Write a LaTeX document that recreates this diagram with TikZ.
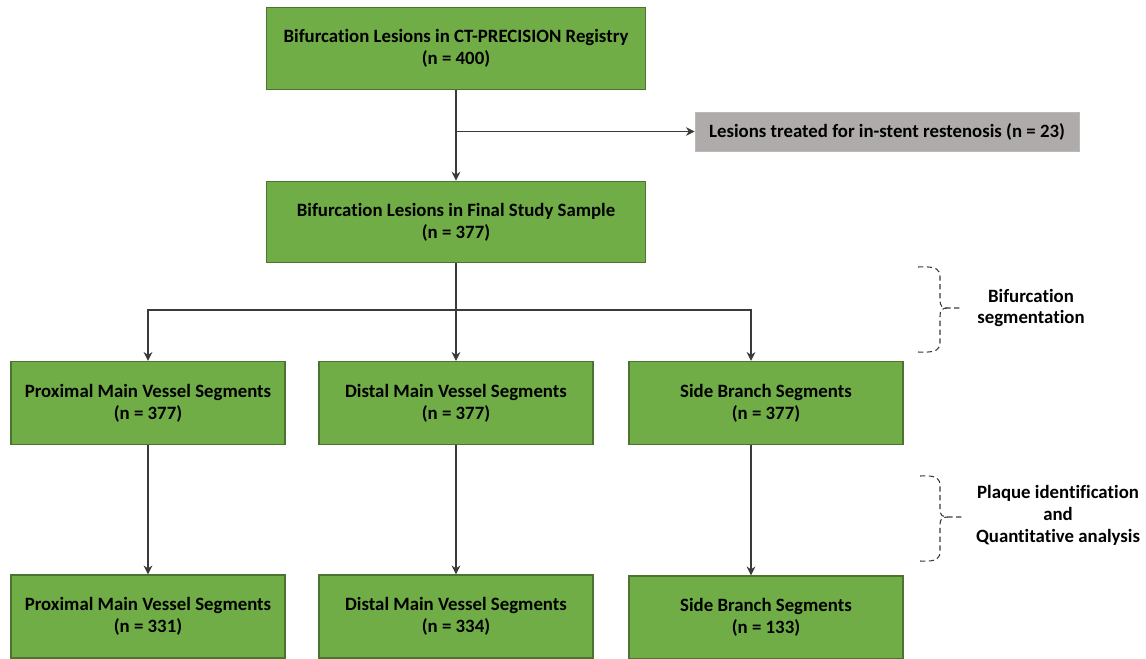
\documentclass[tikz,border=0pt]{standalone}
\usepackage{fontspec}
\setmainfont[Ligatures=NoCommon]{Carlito}
\usetikzlibrary{arrows.meta, positioning, calc}

\definecolor{boxgreen}{HTML}{70AD47}
\definecolor{boxedge}{HTML}{4A7430}
\definecolor{boxgrey}{HTML}{AFABAB}
\definecolor{linegrey}{HTML}{3A3A3A}

\begin{document}
\begin{tikzpicture}[x=0.02cm, y=-0.02cm,
    >={Stealth[length=5pt, width=5pt]},
    flowbox/.style={draw=boxedge, fill=boxgreen, line width=0.8pt,
                    align=center, inner sep=0pt,
                    font=\fontsize{10.7}{12.5}\selectfont\bfseries,
                    minimum width=5.48cm, minimum height=1.66cm},
    widebox/.style={flowbox, minimum width=7.58cm, minimum height=1.63cm},
    exclbox/.style={fill=boxgrey, draw=boxgrey!85!white, inner sep=0pt,
                    font=\fontsize{10.7}{12.5}\selectfont\bfseries,
                    minimum width=7.68cm, minimum height=0.78cm},
    link/.style={draw=linegrey, line width=0.6pt},
    bracket/.style={draw=linegrey, line width=0.6pt,
                    dash pattern=on 3pt off 2pt},
    sidelbl/.style={align=center, font=\fontsize{10.7}{12.5}\selectfont\bfseries}
  ]
  \useasboundingbox (0,0) rectangle (1146,659);

  % Top of the flow
  \node[widebox] (reg) at (456, 48.5)
    {Bifurcation Lesions in CT-PRECISION Registry\\(n = 400)};
  \node[exclbox] (isr) at (887, 131.5)
    {Lesions treated for in-stent restenosis (n = 23)};
  \node[widebox] (fin) at (456, 222)
    {Bifurcation Lesions in Final Study Sample\\(n = 377)};

  % Segments after bifurcation segmentation
  \node[flowbox] (pmv1) at (148, 403)
    {Proximal Main Vessel Segments\\(n = 377)};
  \node[flowbox] (dmv1) at (456, 403)
    {Distal Main Vessel Segments\\(n = 377)};
  \node[flowbox] (sb1) at (766, 403)
    {Side Branch Segments\\(n = 377)};

  % Segments after plaque analysis
  \node[flowbox] (pmv2) at (148, 616.5)
    {Proximal Main Vessel Segments\\(n = 331)};
  \node[flowbox] (dmv2) at (456, 616.5)
    {Distal Main Vessel Segments\\(n = 334)};
  \node[flowbox] (sb2) at (766, 617.5)
    {Side Branch Segments\\(n = 133)};

  % Connectors
  \coordinate (split) at (456, 131.5);
  \coordinate (fork) at (456, 310);
  \draw[link, ->] (reg) -- (fin);
  \draw[link, ->] (split) -- (isr);
  \draw[link, ->] (fin) -- (dmv1);
  \draw[link, ->] (fork) -| (pmv1);
  \draw[link, ->] (fork) -| ([xshift=-0.3cm]sb1.north);
  \draw[link, ->] (pmv1) -- (pmv2);
  \draw[link, ->] (dmv1) -- (dmv2);
  \draw[link, ->] ([xshift=-0.3cm]sb1.south) -- ([xshift=-0.3cm]sb2.north);

  % Dashed braces with their labels
  \draw[bracket] (918,267) .. controls (938,266) and (940,270) .. (940,277)
    -- (940,300) .. controls (940,306) and (942,308) .. (948,308) -- (962,308);
  \draw[bracket] (918,352) .. controls (938,353) and (940,349) .. (940,342)
    -- (940,316) .. controls (940,310) and (942,308) .. (948,308);
  \node[sidelbl] (seglbl) at (1031, 308) {Bifurcation\\segmentation};

  \draw[bracket] (920,476) .. controls (938,475) and (940,479) .. (940,486)
    -- (940,509) .. controls (940,515) and (942,517) .. (948,517) -- (962,517);
  \draw[bracket] (920,561) .. controls (938,562) and (940,558) .. (940,551)
    -- (940,525) .. controls (940,519) and (942,517) .. (948,517);
  \node[sidelbl] (plqlbl) at (1058, 515)
    {Plaque identification\\and\\Quantitative analysis};
\end{tikzpicture}
\end{document}
